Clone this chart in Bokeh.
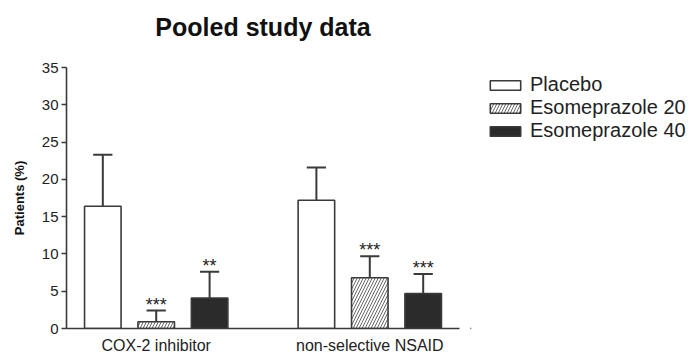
from bokeh.plotting import figure
from bokeh.layouts import row, column
from bokeh.models import (Range1d, FixedTicker, Legend, LegendItem, ColumnDataSource, Label)
from bokeh.core.properties import value
from bokeh.embed import file_html
from bokeh.resources import INLINE

# ---- data ----
title_text = "Pooled study data"
categories = ["COX-2 inhibitor", "non-selective NSAID"]
series = ["Placebo", "Esomeprazole 20", "Esomeprazole 40"]
placebo = [16.4, 17.2]
placebo_err = [6.9, 4.4]
eso20 = [0.9, 6.8]
eso20_err = [1.5, 2.9]
eso40 = [4.1, 4.7]
eso40_err = [3.5, 2.6]
eso20_sig = ["***", "***"]
eso40_sig = ["**", "***"]

FONT = "Liberation Sans"
EDGE = "#3a3a3a"
TH = 45  # height of the title strip

# ---- title strip ----
tf = figure(width=470, height=TH, output_backend="svg", toolbar_location=None,
            x_range=Range1d(0, 1), y_range=Range1d(TH, 0),
            min_border_left=66, min_border_right=11, min_border_top=0, min_border_bottom=0)
tf.axis.visible = False
tf.grid.visible = False
tf.outline_line_color = None
tf.border_fill_color = "white"
tf.add_layout(Label(x=0.5, y=26, text=title_text, text_align="center", text_baseline="middle",
                    text_font=FONT, text_font_size="25px", text_font_style="bold",
                    text_color="#111111"))

# ---- main plot ----
p = figure(width=470, height=356 - TH, output_backend="svg", toolbar_location=None,
           x_range=Range1d(-0.42, 1.42), y_range=Range1d(0, 35),
           min_border_left=66, min_border_right=11, min_border_top=67 - TH,
           min_border_bottom=28)
p.outline_line_color = None
p.grid.visible = False
p.background_fill_color = "white"
p.border_fill_color = "white"

group_x = list(range(len(categories)))
offsets = [-0.25, 0.0, 0.25]
values = [placebo, eso20, eso40]
errs = [placebo_err, eso20_err, eso40_err]
fills = ["white", "white", "#2b2b2b"]
hatches = [None, "/", None]
BW = 0.171
CAP = 0.09

styles = []
for k in range(3):
    xs = [g + offsets[k] for g in group_x]
    src = ColumnDataSource(dict(x=xs, top=values[k], err=[v + e for v, e in zip(values[k], errs[k])]))
    # whisker
    p.segment(x0="x", y0="top", x1="x", y1="err", source=src, line_color=EDGE, line_width=2)
    p.segment(x0=[x - CAP / 2 for x in xs], y0=src.data["err"], x1=[x + CAP / 2 for x in xs],
              y1=src.data["err"], line_color=EDGE, line_width=2)
    kw = dict(fill_color=fills[k], line_color=EDGE, line_width=1.6)
    if hatches[k]:
        kw.update(hatch_pattern=hatches[k], hatch_color="#666666", hatch_scale=6, hatch_weight=1)
    p.vbar(x="x", top="top", width=BW, bottom=0, source=src, **kw)
    styles.append(kw)

# significance markers
for k, sig in ((1, eso20_sig), (2, eso40_sig)):
    xs = [g + offsets[k] for g in group_x]
    ys = [v + e for v, e in zip(values[k], errs[k])]
    p.text(x=xs, y=ys, text=sig, text_align="center", text_baseline="alphabetic",
           y_offset=-6, text_font=value(FONT), text_font_size="18px", text_color="#222222")

# axes
yax = p.yaxis[0]
yax.ticker = FixedTicker(ticks=list(range(0, 36, 5)))
yax.minor_tick_line_color = None
yax.major_tick_in = 0
yax.major_tick_out = 5
yax.major_tick_line_color = EDGE
yax.major_tick_line_width = 1.5
yax.axis_line_color = EDGE
yax.axis_line_width = 1.6
yax.major_label_standoff = 3
yax.major_label_text_font = FONT
yax.major_label_text_font_size = "15px"
yax.major_label_text_color = "#222222"
yax.axis_label = "Patients (%)"
yax.axis_label_text_font = FONT
yax.axis_label_text_font_size = "13px"
yax.axis_label_text_font_style = "bold"
yax.axis_label_text_color = "#111111"
yax.axis_label_standoff = 12

xax = p.xaxis[0]
xax.ticker = FixedTicker(ticks=group_x)
xax.major_label_overrides = {i: c for i, c in enumerate(categories)}
xax.minor_tick_line_color = None
xax.major_tick_in = 0
xax.major_tick_out = 0
xax.axis_line_color = EDGE
xax.axis_line_width = 1.6
xax.major_label_standoff = 8
xax.major_label_text_font = FONT
xax.major_label_text_font_size = "16px"
xax.major_label_text_color = "#222222"

# ---- legend panel (separate figure to the right); swatch renderers sit outside its view ----
lg = figure(width=226, height=356 - TH, output_backend="svg", toolbar_location=None,
            x_range=Range1d(0, 1), y_range=Range1d(0, 1),
            min_border_left=0, min_border_right=0, min_border_top=0, min_border_bottom=0)
lg.axis.visible = False
lg.grid.visible = False
lg.outline_line_color = None
lg.border_fill_color = "white"
lrs = [lg.vbar(x=[-10], top=[-10], bottom=[-11], width=0.1, **kw) for kw in styles]
legend = Legend(items=[LegendItem(label=s, renderers=[r]) for s, r in zip(series, lrs)],
                location=(16, 186), orientation="vertical",
                glyph_width=38, glyph_height=12, label_height=22, spacing=0,
                label_standoff=6, padding=0, margin=0,
                label_text_font=FONT, label_text_font_size="20px", label_text_color="#222222",
                border_line_color=None, background_fill_alpha=0)
lg.add_layout(legend, "center")

layout = column(tf, row(p, lg))
open("out.html", "w").write(file_html(layout, INLINE))
